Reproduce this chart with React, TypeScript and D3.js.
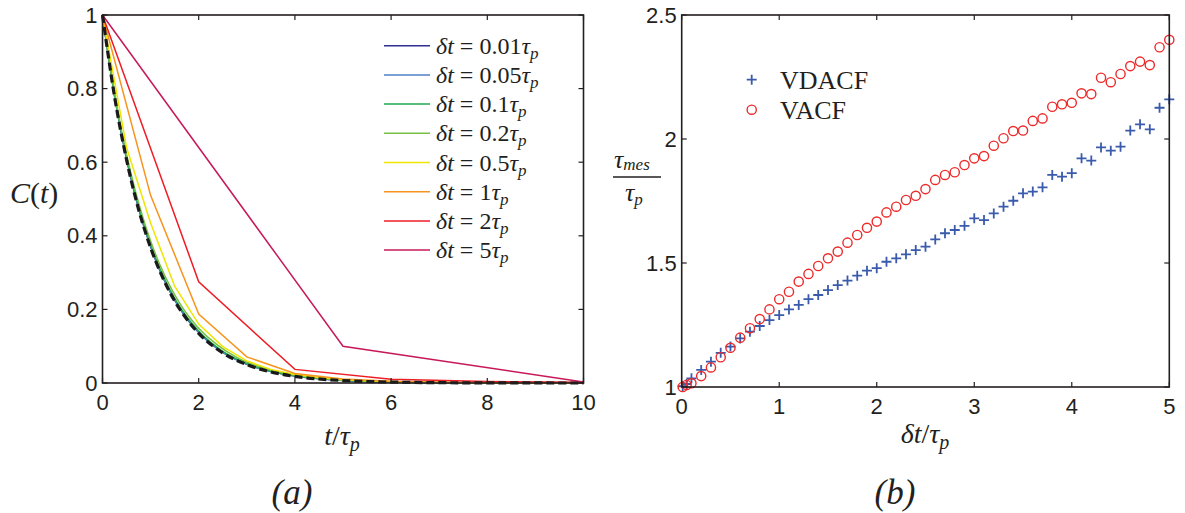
import React from "react";
import * as d3 from "d3";

// (a) correlation curves C(t), each sampled at its own dt
const tFine = [0, 0.25, 0.5, 0.75, 1, 1.25, 1.5, 1.75, 2, 2.5, 3, 3.5, 4, 5, 6, 7, 8, 9, 10];
const cTheory = [1, 0.779, 0.607, 0.472, 0.368, 0.287, 0.223, 0.174, 0.135, 0.082, 0.05, 0.03, 0.018, 0.0067, 0.0025, 0.0009, 0.0003, 0.0001, 0];
const c001 = [1, 0.78, 0.608, 0.474, 0.37, 0.288, 0.225, 0.175, 0.137, 0.083, 0.051, 0.031, 0.019, 0.0069, 0.0026, 0.001, 0.0003, 0.0001, 0];
const c005 = [1, 0.781, 0.61, 0.476, 0.372, 0.29, 0.226, 0.177, 0.138, 0.084, 0.051, 0.031, 0.019, 0.0071, 0.0026, 0.001, 0.0004, 0.0001, 0];
const c01 = [1, 0.783, 0.613, 0.479, 0.375, 0.294, 0.23, 0.18, 0.141, 0.086, 0.053, 0.032, 0.02, 0.0074, 0.0028, 0.001, 0.0004, 0.0001, 0];
const t02 = [0, 0.2, 0.4, 0.6, 0.8, 1, 1.2, 1.4, 1.6, 1.8, 2, 2.4, 2.8, 3.2, 3.6, 4, 5, 6, 8, 10];
const c02 = [1, 0.827, 0.683, 0.565, 0.467, 0.386, 0.319, 0.264, 0.218, 0.18, 0.149, 0.102, 0.069, 0.047, 0.032, 0.022, 0.0086, 0.0033, 0.0005, 0.0001];
const t05 = [0, 0.5, 1, 1.5, 2, 2.5, 3, 3.5, 4, 4.5, 5, 5.5, 6, 6.5, 7, 7.5, 8, 8.5, 9, 9.5, 10];
const c05 = [1, 0.64, 0.435, 0.263, 0.16, 0.099, 0.06, 0.037, 0.023, 0.015, 0.009, 0.006, 0.004, 0.0025, 0.0016, 0.001, 0.0006, 0.0004, 0.0002, 0.0001, 0.0001];
const t1 = [0, 1, 2, 3, 4, 5, 6, 7, 8, 9, 10];
const c1 = [1, 0.51, 0.1875, 0.071, 0.026, 0.011, 0.005, 0.002, 0.001, 0.0005, 0.0002];
const t2 = [0, 2, 4, 6, 8, 10];
const c2 = [1, 0.275, 0.037, 0.01, 0.004, 0.002];
const t5 = [0, 5, 10];
const c5 = [1, 0.1, 0.003];

const curveLabels = ["0.01", "0.05", "0.1", "0.2", "0.5", "1", "2", "5"];
const curveColors = ["#2e3192", "#4f81c7", "#1fa84f", "#76c043", "#eee600", "#f7941d", "#ee1c25", "#c7195a"];

// (b) measured correlation time vs dt
const dtVals = [0.01, 0.05, 0.1, 0.2, 0.3, 0.4, 0.5, 0.6, 0.7, 0.8, 0.9, 1.0, 1.1, 1.2, 1.3, 1.4, 1.5, 1.6, 1.7, 1.8, 1.9, 2.0, 2.1, 2.2, 2.3, 2.4, 2.5, 2.6, 2.7, 2.8, 2.9, 3.0, 3.1, 3.2, 3.3, 3.4, 3.5, 3.6, 3.7, 3.8, 3.9, 4.0, 4.1, 4.2, 4.3, 4.4, 4.5, 4.6, 4.7, 4.8, 4.9, 5.0];
const vdacf = [1.003, 1.012, 1.035, 1.069, 1.102, 1.138, 1.163, 1.196, 1.223, 1.246, 1.27, 1.29, 1.313, 1.331, 1.354, 1.371, 1.391, 1.411, 1.429, 1.449, 1.469, 1.479, 1.505, 1.519, 1.535, 1.552, 1.566, 1.595, 1.62, 1.633, 1.65, 1.68, 1.673, 1.7, 1.727, 1.751, 1.781, 1.788, 1.805, 1.855, 1.848, 1.862, 1.922, 1.913, 1.966, 1.953, 1.969, 2.034, 2.059, 2.039, 2.126, 2.16];
const vacf = [1.0, 1.008, 1.015, 1.044, 1.079, 1.12, 1.158, 1.199, 1.237, 1.274, 1.313, 1.354, 1.384, 1.425, 1.456, 1.488, 1.519, 1.546, 1.582, 1.613, 1.642, 1.667, 1.704, 1.727, 1.754, 1.771, 1.798, 1.835, 1.855, 1.866, 1.895, 1.922, 1.931, 1.973, 2.003, 2.032, 2.034, 2.073, 2.083, 2.13, 2.14, 2.146, 2.184, 2.181, 2.247, 2.229, 2.262, 2.294, 2.312, 2.298, 2.37, 2.4];

const xTicksA = [0, 2, 4, 6, 8, 10];
const yTicksA = [0, 0.2, 0.4, 0.6, 0.8, 1];
const yTickLabelsA = ["0", "0.2", "0.4", "0.6", "0.8", "1"];
const xTicksB = [0, 1, 2, 3, 4, 5];
const yTicksB = [1, 1.5, 2, 2.5];
const yTickLabelsB = ["1", "1.5", "2", "2.5"];

const SANS = "'Liberation Sans', Arial, sans-serif";
const SERIF = "'Liberation Serif', 'Times New Roman', serif";
const AX = "#231f20";

const xA = d3.scaleLinear().domain([0, 10]).range([102.5, 583.5]);
const yA = d3.scaleLinear().domain([0, 1]).range([383, 15]);
const xB = d3.scaleLinear().domain([0, 5]).range([681.7, 1169.3]);
const yB = d3.scaleLinear().domain([1, 2.5]).range([387, 15]);

const curves = [
  { t: tFine, c: c001, smooth: true },
  { t: tFine, c: c005, smooth: true },
  { t: tFine, c: c01, smooth: true },
  { t: t02, c: c02, smooth: true },
  { t: t05, c: c05, smooth: false },
  { t: t1, c: c1, smooth: false },
  { t: t2, c: c2, smooth: false },
  { t: t5, c: c5, smooth: false },
];

function pathOf(ts: number[], cs: number[], smooth: boolean) {
  const line = d3
    .line<number>()
    .x((_, i) => xA(ts[i]))
    .y((d) => yA(d))
    .curve(smooth ? d3.curveMonotoneX : d3.curveLinear);
  return line(cs) || "";
}

function Frame({ x, y, xt, yt, xl, yl }: any) {
  const [x0, x1] = x.range();
  const [y0, y1] = y.range();
  const tl = 5;
  return (
    <g>
      <rect x={x0} y={y1} width={x1 - x0} height={y0 - y1} fill="none" stroke={AX} strokeWidth={1.6} />
      {xt.map((v: number, i: number) => (
        <g key={"x" + i}>
          <line x1={x(v)} x2={x(v)} y1={y0} y2={y0 - tl} stroke={AX} strokeWidth={1.2} />
          <line x1={x(v)} x2={x(v)} y1={y1} y2={y1 + tl} stroke={AX} strokeWidth={1.2} />
          <text x={x(v)} y={y0 + 27} textAnchor="middle" fontFamily={SANS} fontSize={22} fill={AX}>
            {xl[i]}
          </text>
        </g>
      ))}
      {yt.map((v: number, i: number) => (
        <g key={"y" + i}>
          <line x1={x0} x2={x0 + tl} y1={y(v)} y2={y(v)} stroke={AX} strokeWidth={1.2} />
          <line x1={x1} x2={x1 - tl} y1={y(v)} y2={y(v)} stroke={AX} strokeWidth={1.2} />
          <text x={x0 - 5} y={y(v) + 7.5} textAnchor="end" fontFamily={SANS} fontSize={22} fill={AX}>
            {yl[i]}
          </text>
        </g>
      ))}
    </g>
  );
}

const App = () => {
  const theory = pathOf(tFine, cTheory, true);
  return (
    <svg width={1185} height={513} style={{ position: "absolute", left: 0, top: 0, background: "#fff" }}>
      {/* panel (a) */}
      <g>
        {curves.map((cv, i) => (
          <path key={i} d={pathOf(cv.t, cv.c, cv.smooth)} fill="none" stroke={curveColors[i]} strokeWidth={1.5} />
        ))}
        <path d={theory} fill="none" stroke="#1a1a1a" strokeWidth={3.2} strokeDasharray="8,4" />
        <Frame x={xA} y={yA} xt={xTicksA} yt={yTicksA} xl={xTicksA.map(String)} yl={yTickLabelsA} />
        {curveLabels.map((lab, i) => {
          const yy = 45.7 + i * 29.2;
          return (
            <g key={lab}>
              <line x1={384} x2={430} y1={yy} y2={yy} stroke={curveColors[i]} strokeWidth={1.5} />
              <text x={436} y={yy + 8} fontFamily={SERIF} fontSize={24} fill={AX}>
                <tspan fontStyle="italic">δt</tspan>
                <tspan dx={6}>=</tspan>
                <tspan dx={6}>{lab}</tspan>
                <tspan fontStyle="italic">τ</tspan>
                <tspan fontStyle="italic" fontSize={17} dy={5}>p</tspan>
              </text>
            </g>
          );
        })}
        <text x={10} y={203} fontFamily={SERIF} fontSize={30} fill={AX}>
          <tspan fontStyle="italic">C</tspan>(<tspan fontStyle="italic">t</tspan>)
        </text>
        <text x={342} y={445} textAnchor="middle" fontFamily={SERIF} fontSize={28} fill={AX}>
          <tspan fontStyle="italic">t</tspan>/<tspan fontStyle="italic">τ</tspan>
          <tspan fontStyle="italic" fontSize={20} dy={6}>p</tspan>
        </text>
        <text x={292} y={504} textAnchor="middle" fontFamily={SERIF} fontSize={35} fontStyle="italic" fill={AX}>
          (a)
        </text>
      </g>

      {/* panel (b) */}
      <g>
        {dtVals.map((d, i) => (
          <path
            key={"p" + i}
            d={`M${xB(d) - 5},${yB(vdacf[i])}h10M${xB(d)},${yB(vdacf[i]) - 5}v10`}
            stroke="#3a5bab"
            strokeWidth={1.8}
            fill="none"
          />
        ))}
        {dtVals.map((d, i) => (
          <circle key={"c" + i} cx={xB(d)} cy={yB(vacf[i])} r={4.6} fill="none" stroke="#ee2a2a" strokeWidth={1.4} />
        ))}
        <Frame x={xB} y={yB} xt={xTicksB} yt={yTicksB} xl={xTicksB.map(String)} yl={yTickLabelsB} />
        <path d="M746.7,79.7h10M751.7,74.7v10" stroke="#3a5bab" strokeWidth={1.8} fill="none" />
        <circle cx={751.7} cy={109.7} r={4.6} fill="none" stroke="#ee2a2a" strokeWidth={1.4} />
        <text x={780} y={88.5} fontFamily={SERIF} fontSize={26} fill={AX}>VDACF</text>
        <text x={780} y={118.5} fontFamily={SERIF} fontSize={26} fill={AX}>VACF</text>
        <text x={614} y={168} fontFamily={SERIF} fontSize={26} fontStyle="italic" fill={AX}>
          τ<tspan fontSize={17} dy={2}>mes</tspan>
        </text>
        <line x1={613} x2={661} y1={177} y2={177} stroke={AX} strokeWidth={1.6} />
        <text x={625} y={201} fontFamily={SERIF} fontSize={26} fontStyle="italic" fill={AX}>
          τ<tspan fontSize={17} dy={4}>p</tspan>
        </text>
        <text x={925} y={443} textAnchor="middle" fontFamily={SERIF} fontSize={28} fill={AX}>
          <tspan fontStyle="italic">δt</tspan>/<tspan fontStyle="italic">τ</tspan>
          <tspan fontStyle="italic" fontSize={20} dy={6}>p</tspan>
        </text>
        <text x={895} y={504} textAnchor="middle" fontFamily={SERIF} fontSize={35} fontStyle="italic" fill={AX}>
          (b)
        </text>
      </g>
    </svg>
  );
};

export default App;
